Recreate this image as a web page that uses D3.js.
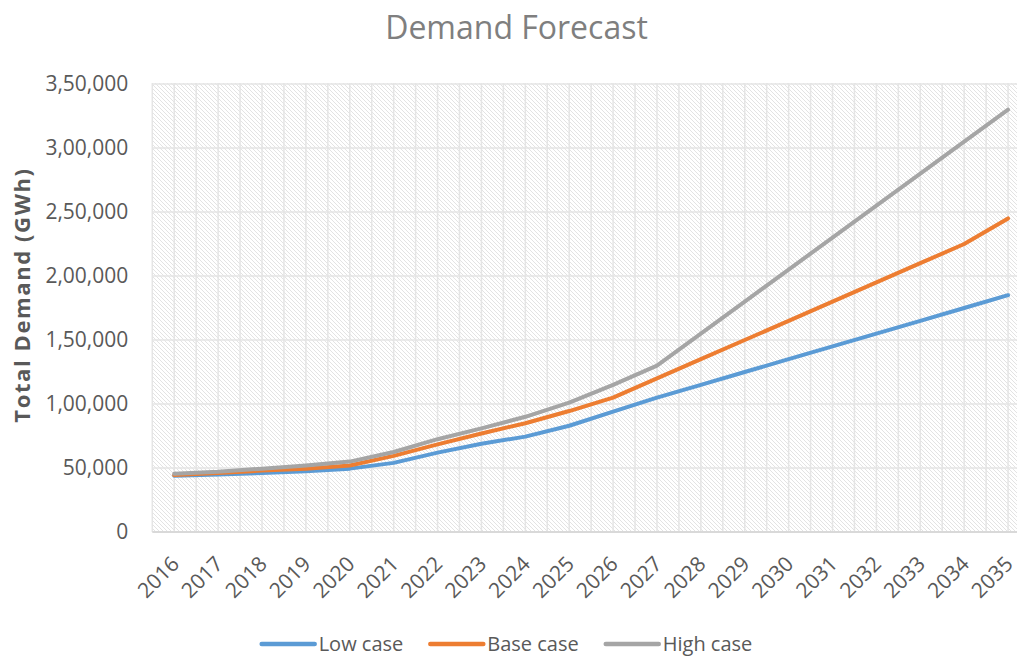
<!DOCTYPE html>
<html>
<head>
<meta charset="utf-8">
<script src="https://cdn.jsdelivr.net/npm/d3@7"></script>
<style>
  html, body { margin: 0; padding: 0; background: #fff; overflow: hidden; }
  svg { display: block; font-family: "Open Sans", sans-serif; }
</style>
</head>
<body>
<div id="chart"></div>
<script>
// chart values
const years = ["2016", "2017", "2018", "2019", "2020", "2021", "2022", "2023", "2024", "2025",
  "2026", "2027", "2028", "2029", "2030", "2031", "2032", "2033", "2034", "2035"];
const lowCase = [44000, 45000, 46000, 47500, 49500, 54000, 62000, 69000, 74500, 83000,
  94000, 105000, 115000, 125000, 135000, 145000, 155000, 165000, 175000, 185000];
const baseCase = [44500, 46000, 48000, 49500, 52000, 59500, 68500, 77000, 85000, 94500,
  105000, 120000, 135000, 150000, 165000, 180000, 195000, 210000, 225000, 245000];
const highCase = [45500, 47000, 49500, 52000, 55000, 62500, 72500, 81000, 90000, 101000,
  115000, 130000, 155000, 180000, 205000, 230000, 255000, 280000, 305000, 330000];
const yTicks = [0, 50000, 100000, 150000, 200000, 250000, 300000, 350000];
const seriesNames = ["Low case", "Base case", "High case"];
const seriesColors = ["#5b9bd5", "#ed7d31", "#a5a5a5"];

const width = 1017, height = 657;
// plot area runs past the right edge, like the cropped original
const plot = { left: 152.3, right: 1030, top: 83, bottom: 532 };

const svg = d3.select("#chart")
  .append("svg")
  .attr("width", width)
  .attr("height", height)
  .attr("viewBox", [0, 0, width, height]);

// indian digit grouping: 3,50,000
const inLocale = d3.formatLocale({ decimal: ".", thousands: ",", grouping: [3, 2], currency: ["", ""] });
const fmt = inLocale.format(",");

const x = d3.scaleBand().domain(years).range([plot.left, plot.right]).padding(0);
const y = d3.scaleLinear().domain([0, 350000]).range([plot.bottom, plot.top + 1]);
const cx = (d) => x(d) + x.bandwidth() / 2;

// hatched plot background
const pat = svg.append("defs")
  .append("pattern")
  .attr("id", "hatch")
  .attr("patternUnits", "userSpaceOnUse")
  .attr("width", 4)
  .attr("height", 4);
pat.append("rect").attr("width", 4).attr("height", 4).attr("fill", "#fff");
pat.append("path")
  .attr("d", "M-1,-1L5,5M-1,3L1,5M3,-1L5,1")
  .attr("stroke", "#e3e3e3")
  .attr("stroke-width", 1);

svg.append("rect")
  .attr("x", plot.left)
  .attr("y", plot.top)
  .attr("width", plot.right - plot.left)
  .attr("height", plot.bottom - plot.top)
  .attr("fill", "url(#hatch)");

// gridlines: vertical at every half category, horizontal at y ticks
const vx = [];
years.forEach((d) => { vx.push(x(d)); vx.push(cx(d)); });
vx.push(plot.right);

const grid = svg.append("g").attr("stroke", "#e5e5e5").attr("stroke-width", 1.5);
grid.selectAll("line.v")
  .data(vx)
  .join("line")
  .attr("class", "v")
  .attr("x1", (d) => d).attr("x2", (d) => d)
  .attr("y1", plot.top).attr("y2", plot.bottom);
grid.selectAll("line.h")
  .data(yTicks.slice(1))
  .join("line")
  .attr("class", "h")
  .attr("x1", plot.left).attr("x2", plot.right)
  .attr("y1", (d) => y(d)).attr("y2", (d) => y(d));

// y axis
svg.append("g")
  .attr("transform", `translate(${plot.left},0)`)
  .call(d3.axisLeft(y).tickValues(yTicks).tickFormat(fmt).tickSize(0).tickPadding(24))
  .call((g) => g.select(".domain").remove())
  .call((g) => g.selectAll("text")
    .attr("fill", "#595959")
    .style("font-family", "Open Sans")
    .style("font-size", "21px"));

// x axis
const xAxis = svg.append("g")
  .attr("transform", `translate(0,${plot.bottom})`)
  .call(d3.axisBottom(x).tickSize(0).tickPadding(0));
xAxis.select(".domain")
  .attr("d", `M${plot.left},0H${plot.right}`)
  .attr("stroke", "#d9d9d9")
  .attr("stroke-width", 2);
xAxis.selectAll("text")
  .attr("fill", "#595959")
  .style("font-family", "Open Sans")
  .style("font-size", "21px")
  .attr("text-anchor", "end")
  .attr("y", 0)
  .attr("dy", "0.35em")
  .attr("transform", "translate(1,28) rotate(-45)");

// series lines
const series = [lowCase, baseCase, highCase];
const line = d3.line()
  .x((_, i) => cx(years[i]))
  .y((d) => y(d));

svg.append("g")
  .attr("fill", "none")
  .attr("stroke-width", 4)
  .attr("stroke-linejoin", "round")
  .attr("stroke-linecap", "round")
  .selectAll("path")
  .data(series)
  .join("path")
  .attr("stroke", (_, i) => seriesColors[i])
  .attr("d", line);

// title
svg.append("text")
  .attr("x", 516.5)
  .attr("y", 39)
  .attr("text-anchor", "middle")
  .attr("fill", "#7f7f7f")
  .style("font-size", "32px")
  .text("Demand Forecast");

// y axis title
svg.append("text")
  .attr("transform", "translate(30,295) rotate(-90)")
  .attr("text-anchor", "middle")
  .attr("fill", "#595959")
  .style("font-size", "22px")
  .style("font-weight", "bold")
  .style("letter-spacing", "1.6px")
  .text("Total Demand (GWh)");

// legend, centred under the chart
const legend = svg.append("g").attr("transform", "translate(0,644)");
const items = legend.selectAll("g")
  .data(seriesNames)
  .join("g");
items.append("line")
  .attr("x1", 0).attr("x2", 53)
  .attr("stroke", (_, i) => seriesColors[i])
  .attr("stroke-width", 4.5)
  .attr("stroke-linecap", "round");
items.append("text")
  .attr("x", 57)
  .attr("dy", "0.35em")
  .attr("fill", "#595959")
  .style("font-size", "20px")
  .text((d) => d);

let pos = 0;
const offsets = [];
items.each(function () {
  offsets.push(pos);
  pos += 57 + this.querySelector("text").getComputedTextLength() + 27;
});
const start = 507 - (pos - 27) / 2;
items.attr("transform", (_, i) => `translate(${start + offsets[i]},0)`);
</script>
</body>
</html>
